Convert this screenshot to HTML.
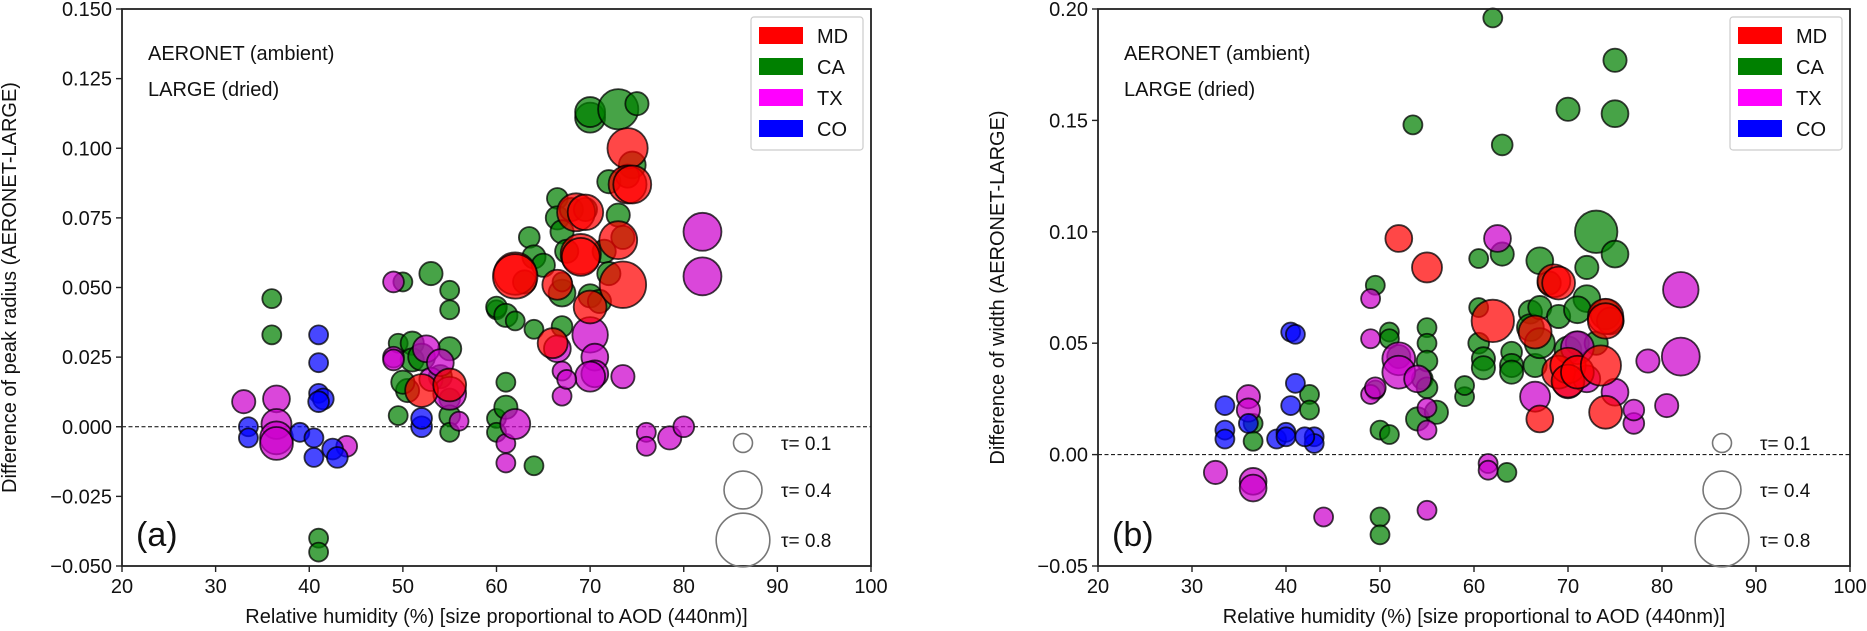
<!DOCTYPE html>
<html><head><meta charset="utf-8"><style>
body{margin:0;background:#fff;}
svg{display:block;font-family:"Liberation Sans","DejaVu Sans",sans-serif;}
</style></head><body>
<svg id="fig" width="1867" height="631" viewBox="0 0 1867 631"></svg>
<script>
// ---------- Panel (a): peak radius difference ----------
const aMD_rh=[52,55,62,62,66,66.5,68.5,69.5,69,69,70,73,73.5,74,74,74.5];
const aMD_v=[0.013,0.015,0.055,0.054,0.030,0.051,0.077,0.077,0.062,0.061,0.043,0.067,0.051,0.100,0.087,0.087];
const aMD_t=[0.3,0.3,0.5,0.55,0.25,0.25,0.4,0.35,0.45,0.4,0.3,0.4,0.6,0.45,0.4,0.4];
const aCA_rh=[36,36,41,41,49.5,50,50.5,50,51,51,52,53,55,55,55,55,55,55,54,49.5,60,60,61,61,60,60,61,62,63.5,64,64,64,65,66.5,66.5,67,67.5,67,67,67,68,69.5,70,70,70,71,71.5,72,73,73,73.5,74.5,75,74,72,63];
const aCA_v=[0.046,0.033,-0.040,-0.045,0.030,0.052,0.013,0.016,0.030,0.024,0.025,0.055,0.049,0.042,0.028,0.010,0.004,-0.002,0.018,0.004,0.042,0.043,0.040,0.016,0.003,-0.002,0.007,0.038,0.068,0.061,0.035,-0.014,0.058,0.082,0.075,0.070,0.063,0.048,0.036,0.052,0.078,0.078,0.111,0.113,0.047,0.045,0.063,0.088,0.114,0.076,0.068,0.094,0.116,0.090,0.055,0.052];
const aCA_t=[0.1,0.1,0.1,0.1,0.1,0.1,0.15,0.15,0.15,0.15,0.2,0.15,0.1,0.1,0.15,0.12,0.12,0.1,0.15,0.1,0.1,0.12,0.15,0.1,0.1,0.1,0.15,0.1,0.12,0.15,0.1,0.1,0.15,0.12,0.15,0.15,0.15,0.2,0.12,0.1,0.15,0.15,0.25,0.25,0.15,0.15,0.15,0.15,0.45,0.15,0.15,0.2,0.15,0.15,0.15,0.15];
const aTX_rh=[33,36.5,36.5,36.5,36.5,44,49,49,49,52.5,53,54,55,56,61,61,62,66.5,67,67,70,70.5,70.5,70,73.5,76,76,78.5,80,82,82,67.5];
const aTX_v=[0.009,0.010,0.001,-0.004,-0.006,-0.007,0.052,0.025,0.024,0.028,0.017,0.023,0.012,0.002,-0.006,-0.013,0.001,0.028,0.020,0.011,0.033,0.025,0.019,0.018,0.018,-0.002,-0.007,-0.004,0.000,0.070,0.054,0.017];
const aTX_t=[0.15,0.2,0.25,0.3,0.3,0.12,0.12,0.12,0.12,0.2,0.15,0.2,0.3,0.1,0.1,0.1,0.25,0.2,0.1,0.1,0.35,0.2,0.2,0.25,0.15,0.1,0.1,0.15,0.12,0.4,0.4,0.1];
const aCO_rh=[33.5,33.5,39,40.5,40.5,41,41,41,41.5,42.5,43,52,52,41];
const aCO_v=[0.000,-0.004,-0.002,-0.004,-0.011,0.033,0.023,0.012,0.010,-0.008,-0.011,0.000,0.003,0.009];
const aCO_t=[0.1,0.1,0.1,0.1,0.1,0.1,0.1,0.1,0.12,0.12,0.12,0.12,0.12,0.12];
const aTicksY=["−0.050","−0.025","0.000","0.025","0.050","0.075","0.100","0.125","0.150"];
const aTickVals=[-0.05,-0.025,0,0.025,0.05,0.075,0.1,0.125,0.15];
// ---------- Panel (b): width difference ----------
const bMD_rh=[52,55,62,66.5,67,68.5,69,69,70,70,71,73.5,74,74,74];
const bMD_v=[0.097,0.084,0.060,0.055,0.016,0.078,0.077,0.037,0.040,0.033,0.037,0.040,0.062,0.060,0.019];
const bMD_t=[0.2,0.25,0.5,0.3,0.2,0.3,0.3,0.3,0.35,0.3,0.3,0.45,0.35,0.35,0.3];
const bCA_rh=[36.5,36.5,42.5,42.5,49.5,49.5,50,50,50,51,51,51,52,53.5,54.5,54,55,55,55,55,56,59,59,60.5,60.5,60.5,61,61,62,63,63,63.5,64,64,64,66,66,66.5,67,67,67,68,69,70,70,71,72,72,73,74,74.5,75,75,75,71,73];
const bCA_v=[0.014,0.006,0.027,0.020,0.076,0.029,-0.028,-0.036,0.011,0.055,0.052,0.009,0.044,0.148,0.034,0.016,0.057,0.050,0.042,0.030,0.019,0.026,0.031,0.088,0.066,0.050,0.043,0.039,0.196,0.139,0.090,-0.008,0.046,0.040,0.037,0.064,0.057,0.040,0.087,0.066,0.050,0.077,0.062,0.155,0.047,0.050,0.084,0.070,0.100,0.063,0.060,0.177,0.153,0.090,0.065,0.050];
const bCA_t=[0.1,0.1,0.1,0.1,0.1,0.1,0.1,0.1,0.1,0.1,0.1,0.1,0.15,0.1,0.12,0.15,0.1,0.1,0.12,0.12,0.15,0.1,0.1,0.1,0.1,0.12,0.15,0.15,0.1,0.12,0.15,0.1,0.12,0.15,0.15,0.15,0.2,0.15,0.2,0.15,0.25,0.15,0.15,0.15,0.2,0.15,0.15,0.2,0.5,0.25,0.2,0.15,0.2,0.2,0.2,0.15];
const bTX_rh=[32.5,36,36,36.5,36.5,44,49,49,49,49.5,52,52,54,55,55,55,61.5,61.5,62.5,66.5,70,71,72,75,77,78.5,80.5,82,82,77];
const bTX_v=[-0.008,0.026,0.020,-0.012,-0.015,-0.028,0.070,0.052,0.027,0.030,0.043,0.037,0.034,0.011,-0.025,0.021,-0.004,-0.007,0.097,0.026,0.032,0.048,0.034,0.028,0.014,0.042,0.022,0.074,0.044,0.020];
const bTX_t=[0.15,0.15,0.15,0.2,0.2,0.1,0.1,0.1,0.1,0.12,0.3,0.3,0.2,0.1,0.1,0.1,0.1,0.1,0.2,0.25,0.25,0.3,0.2,0.2,0.12,0.15,0.15,0.35,0.4,0.12];
const bCO_rh=[33.5,33.5,33.5,36,39,40,40,40.5,41,41,40.5,43,43,42];
const bCO_v=[0.022,0.011,0.007,0.014,0.007,0.010,0.008,0.055,0.054,0.032,0.022,0.008,0.005,0.008];
const bCO_t=[0.1,0.1,0.1,0.1,0.1,0.1,0.1,0.1,0.1,0.1,0.1,0.1,0.1,0.1];
const bTicksY=["−0.05","0.00","0.05","0.10","0.15","0.20"];
const bTickVals=[-0.05,0,0.05,0.1,0.15,0.2];
const xTicks=[20,30,40,50,60,70,80,90,100];
const legendNames=["MD","CA","TX","CO"];
const legendColors=["#ff0000","#008000","#ff00ff","#0000ff"];
const sizeTaus=[0.1,0.4,0.8];

const NS="http://www.w3.org/2000/svg";
const svg=document.getElementById('fig');
function mk(tag,attrs,parent,text){const e=document.createElementNS(NS,tag);for(const k in attrs)e.setAttribute(k,attrs[k]);if(text!==undefined)e.textContent=text;(parent||svg).appendChild(e);return e;}
const TOP=9,BOT=566,FS=20;
function rad(t){return 30*Math.sqrt(t);}

function panel(id,L,R,ymin,ymax,tickVals,tickLabels,ytitle,tag,series){
  const g=mk('g',{});
  
  
  const sx=v=>L+(v-20)/80*(R-L);
  const sy=v=>BOT-(v-ymin)/(ymax-ymin)*(BOT-TOP);
  const zl=mk('line',{x1:L,x2:R,y1:sy(0),y2:sy(0),stroke:'#000','stroke-width':1,'stroke-dasharray':'4,2.5'},g);
  
  
  const pg=mk('g',{},g);
  
  
  series.forEach(s=>{
    for(let i=0;i<s.x.length;i++){
      const c=mk('circle',{cx:sx(s.x[i]),cy:sy(s.y[i]),r:rad(s.t[i]),fill:s.c,'fill-opacity':0.72,stroke:'#000','stroke-opacity':0.75,'stroke-width':1.8},pg);
      
      
    }
  });
  const fr=mk('rect',{x:L,y:TOP,width:R-L,height:BOT-TOP,fill:'none',stroke:'#222','stroke-width':1.8},g);
  
  
  xTicks.forEach(v=>{
    mk('line',{x1:sx(v),x2:sx(v),y1:BOT,y2:BOT+6,stroke:'#222','stroke-width':1.4},g);
    const t=mk('text',{x:sx(v),y:BOT+27,'font-size':FS,'text-anchor':'middle',fill:'#111'},g,String(v));
    
    
  });
  tickVals.forEach((v,i)=>{
    mk('line',{x1:L-6,x2:L,y1:sy(v),y2:sy(v),stroke:'#222','stroke-width':1.4},g);
    const t=mk('text',{x:L-10,y:sy(v)+7,'font-size':FS,'text-anchor':'end',fill:'#111'},g,tickLabels[i]);
    
    
  });
  const xt=mk('text',{x:(L+R)/2,y:BOT+57,'font-size':FS,'text-anchor':'middle',fill:'#111'},g,'Relative humidity (%)  [size proportional to AOD (440nm)]');
  
  
  const yx=L-(id==='a'?106:94);
  const yt=mk('text',{x:yx,y:(TOP+BOT)/2,'font-size':FS,'text-anchor':'middle',fill:'#111',transform:`rotate(-90 ${yx} ${(TOP+BOT)/2})`},g,ytitle);
  
  
  const a1=mk('text',{x:L+26,y:60,'font-size':FS,fill:'#111'},g,'AERONET (ambient)');
  
  
  const a2=mk('text',{x:L+26,y:96,'font-size':FS,fill:'#111'},g,'LARGE (dried)');
  
  
  const pl=mk('text',{x:L+14,y:546,'font-size':34,fill:'#111'},g,tag);
  
  
  const lg=mk('g',{},g);
  
  
  const lx=R-120;
  mk('rect',{x:lx,y:TOP+8,width:112,height:133,rx:3,fill:'#fff','fill-opacity':0.85,stroke:'#ccc','stroke-width':1.2},lg);
  legendNames.forEach((n,i)=>{
    const e=mk('g',{},lg);
    
    
    const y=TOP+26+i*31;
    mk('rect',{x:lx+8,y:y-8,width:44,height:17,fill:legendColors[i]},e);
    mk('text',{x:lx+66,y:y+8,'font-size':FS,fill:'#111'},e,n);
  });
  const sg=mk('g',{},g);
  
  
  const sxL=R-128;
  const sizeY=[443,490,540];
  sizeTaus.forEach((t,i)=>{
    mk('circle',{cx:sxL,cy:sizeY[i],r:rad(t),fill:'none',stroke:'#777','stroke-width':1.6},sg);
    mk('text',{x:sxL+38,y:sizeY[i]+7,'font-size':19,fill:'#111'},sg,'τ= '+t);
  });
}

panel('a',122,871,-0.05,0.15,aTickVals,aTicksY,'Difference of peak radius (AERONET-LARGE)','(a)',[
  {n:'ca',c:'#008000',x:aCA_rh,y:aCA_v,t:aCA_t},
  {n:'tx',c:'#cc00cc',x:aTX_rh,y:aTX_v,t:aTX_t},
  {n:'co',c:'#0000ff',x:aCO_rh,y:aCO_v,t:aCO_t},
  {n:'md',c:'#ff0000',x:aMD_rh,y:aMD_v,t:aMD_t}]);
panel('b',1098,1850,-0.05,0.2,bTickVals,bTicksY,'Difference of width (AERONET-LARGE)','(b)',[
  {n:'ca',c:'#008000',x:bCA_rh,y:bCA_v,t:bCA_t},
  {n:'tx',c:'#cc00cc',x:bTX_rh,y:bTX_v,t:bTX_t},
  {n:'co',c:'#0000ff',x:bCO_rh,y:bCO_v,t:bCO_t},
  {n:'md',c:'#ff0000',x:bMD_rh,y:bMD_v,t:bMD_t}]);
</script>
</body></html>
